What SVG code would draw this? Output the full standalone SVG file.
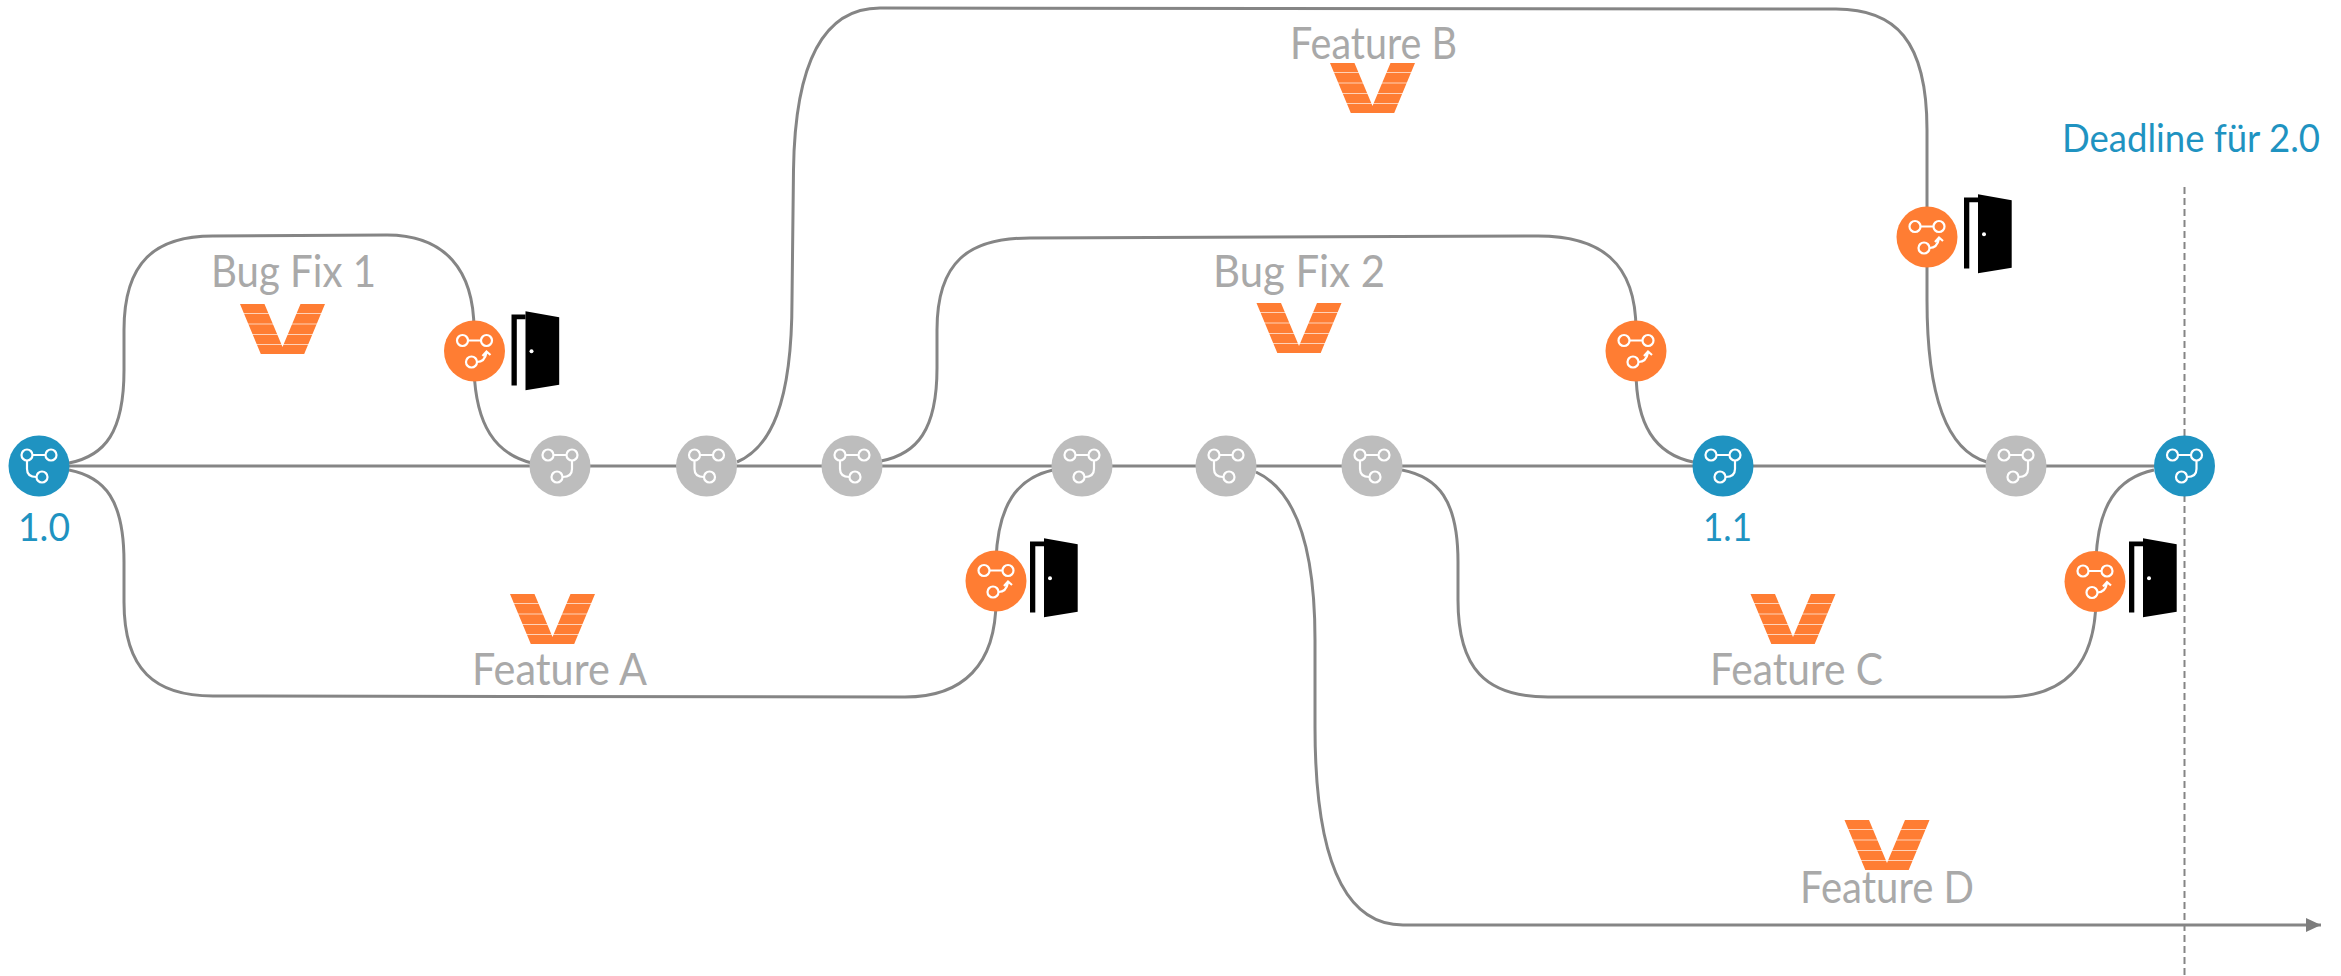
<svg xmlns="http://www.w3.org/2000/svg" xmlns:xlink="http://www.w3.org/1999/xlink" width="2341" height="976" viewBox="0 0 2341 976">
<style>
.c{fill:none;stroke:#858585;stroke-width:3}
.i{fill:none;stroke:#fff;stroke-width:2.2}
.t{font-family:"Lato","Liberation Sans",sans-serif;font-weight:400;font-size:44px;fill:#a9a9a9}
.b{font-family:"Lato","Liberation Sans",sans-serif;font-weight:400;font-size:38px;fill:#1f93c1}
</style>
<defs>
<marker id="ah" markerUnits="userSpaceOnUse" markerWidth="16" markerHeight="14" refX="15" refY="7" orient="auto"><path d="M0 0L15 7L0 14Z" fill="#7d7d7d"/></marker>
<g id="br"><circle cx="-12" cy="-11" r="5.5" class="i"/><circle cx="12" cy="-11" r="5.5" class="i"/><circle cx="-3" cy="11" r="5.5" class="i"/><path class="i" d="M-6.5 -11H6.5M12 -5.5V3C12 9 8 11 2.5 11"/></g>
<g id="mg"><circle cx="-12" cy="-10.5" r="5.5" class="i"/><circle cx="12" cy="-10.5" r="5.5" class="i"/><circle cx="-3" cy="11" r="5.5" class="i"/><path class="i" d="M-6.5 -10.5H6.5M2.5 11C8 11 11 7 12 1.5M8 5L12 0.5L16 4"/></g>
<g id="door"><path d="M37 -36.5H51V-31.7H42.3V34.5H37Z"/><path d="M51 -39.7L84.7 -33.7V33.7L51 39.3Z"/><circle cx="57" cy="0.3" r="2" fill="#fff"/></g>
<g id="v"><path d="M-42.5 0H-18L0 43L18 0H42.5L21.7 50H-21.7Z" fill="#ff7d33"/><path d="M-40 9.5H40M-35.5 20H35.5M-31.5 30.5H31.5M-27 40.5H27" stroke="#fff" stroke-opacity="0.65" stroke-width="1" fill="none"/></g>
</defs>
<g id="connectors">
<path class="c" d="M39 466H2184"/>
<path class="c" d="M69 463C105 456 124 432 124 370L124 330C124 262 155 236 213 236L387 235C445 235 474 270 474 330L474 370C476 425 495 454 532 463"/>
<path class="c" d="M69 470C105 477 124 500 124 562L124 602C124 670 155 696 213 696L905 697C963 697 996 665 996 600L996 560C998 505 1017 478 1053 470"/>
<path class="c" d="M737 462C770 448 792 405 792 300L793.5 170C795 60 825 8 880 8L1836 9C1895 9 1927 40 1927 130L1927 300C1927 390 1945 450 1987 462"/>
<path class="c" d="M881 461C917 454 937 430 937 368L937 330C937 262 968 238 1030 238L1538 236C1600 236 1636 262 1636 330L1636 370C1636 425 1655 454 1693 462"/>
<path class="c" d="M1402 470C1438 477 1458 500 1458 562L1458 600C1458 668 1485 697 1548 697L2005 697C2065 697 2095 665 2096 600L2096 560C2098 505 2117 478 2154 470"/>
<path class="c" d="M1256 472C1295 490 1315 545 1315 640L1315 727C1315 850 1340 925 1403 925L2321 925" marker-end="url(#ah)"/>
<path d="M2184.5 187V976" fill="none" stroke="#858585" stroke-width="2" stroke-dasharray="7 4"/>
</g>
<g id="n10"><circle cx="39" cy="466" r="30.5" fill="#1f93c1"/><use xlink:href="#br" transform="translate(39 466) scale(-1 1)"/></g>
<g id="n11"><circle cx="560" cy="466" r="30.5" fill="#bdbdbd"/><use xlink:href="#br" x="560" y="466"/></g>
<g id="n12"><circle cx="706.5" cy="466" r="30.5" fill="#bdbdbd"/><use xlink:href="#br" transform="translate(706.5 466) scale(-1 1)"/></g>
<g id="n13"><circle cx="852" cy="466" r="30.5" fill="#bdbdbd"/><use xlink:href="#br" transform="translate(852 466) scale(-1 1)"/></g>
<g id="n14"><circle cx="1082" cy="466" r="30.5" fill="#bdbdbd"/><use xlink:href="#br" x="1082" y="466"/></g>
<g id="n15"><circle cx="1226" cy="466" r="30.5" fill="#bdbdbd"/><use xlink:href="#br" transform="translate(1226 466) scale(-1 1)"/></g>
<g id="n16"><circle cx="1372" cy="466" r="30.5" fill="#bdbdbd"/><use xlink:href="#br" transform="translate(1372 466) scale(-1 1)"/></g>
<g id="n17"><circle cx="1723" cy="466" r="30.5" fill="#1f93c1"/><use xlink:href="#br" x="1723" y="466"/></g>
<g id="n18"><circle cx="2016" cy="466" r="30.5" fill="#bdbdbd"/><use xlink:href="#br" x="2016" y="466"/></g>
<g id="n20"><circle cx="2184.5" cy="466" r="30.5" fill="#1f93c1"/><use xlink:href="#br" x="2184.5" y="466"/></g>
<g id="m1"><circle cx="474.5" cy="351" r="30.5" fill="#ff7d33"/><use xlink:href="#mg" x="474.5" y="351"/><use xlink:href="#door" x="474.5" y="351"/></g>
<g id="m2"><circle cx="1636" cy="351" r="30.5" fill="#ff7d33"/><use xlink:href="#mg" x="1636" y="351"/></g>
<g id="m3"><circle cx="1927" cy="237" r="30.5" fill="#ff7d33"/><use xlink:href="#mg" x="1927" y="237"/><use xlink:href="#door" x="1927" y="234"/></g>
<g id="m4"><circle cx="996" cy="581" r="30.5" fill="#ff7d33"/><use xlink:href="#mg" x="996" y="581"/><use xlink:href="#door" x="993" y="578"/></g>
<g id="m5"><circle cx="2095" cy="581.5" r="30.5" fill="#ff7d33"/><use xlink:href="#mg" x="2095" y="581.5"/><use xlink:href="#door" x="2092" y="578"/></g>
<g id="bugfix1"><text class="t" x="211" y="287" textLength="165" lengthAdjust="spacingAndGlyphs">Bug Fix 1</text><use xlink:href="#v" x="282.5" y="304"/></g>
<g id="bugfix2"><text class="t" x="1213" y="287" textLength="172" lengthAdjust="spacingAndGlyphs">Bug Fix 2</text><use xlink:href="#v" x="1299" y="303"/></g>
<g id="featureB"><text class="t" x="1290" y="59" textLength="167" lengthAdjust="spacingAndGlyphs">Feature B</text><use xlink:href="#v" x="1372.5" y="63"/></g>
<g id="featureA"><text class="t" x="472" y="685" textLength="175" lengthAdjust="spacingAndGlyphs">Feature A</text><use xlink:href="#v" x="552.5" y="594"/></g>
<g id="featureC"><text class="t" x="1710" y="685" textLength="173" lengthAdjust="spacingAndGlyphs">Feature C</text><use xlink:href="#v" x="1793" y="594"/></g>
<g id="featureD"><text class="t" x="1800" y="903" textLength="174" lengthAdjust="spacingAndGlyphs">Feature D</text><use xlink:href="#v" x="1887" y="820"/></g>
<text class="b" x="18" y="541" textLength="52" lengthAdjust="spacingAndGlyphs">1.0</text>
<text class="b" x="1703" y="541" textLength="49" lengthAdjust="spacingAndGlyphs">1.1</text>
<text class="b" x="2062" y="152" textLength="258" lengthAdjust="spacingAndGlyphs">Deadline für 2.0</text>
</svg>
